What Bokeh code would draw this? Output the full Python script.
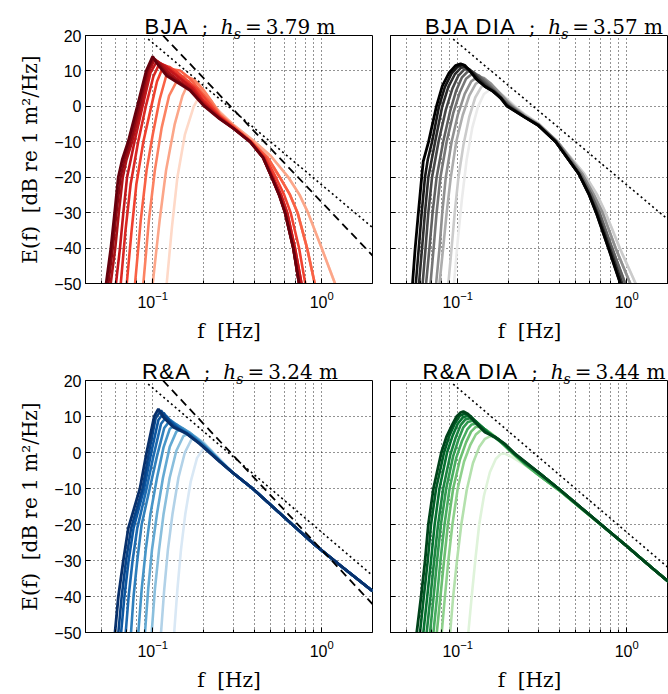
import numpy as np
from bokeh.plotting import figure
from bokeh.layouts import column, row
from bokeh.models import FixedTicker, Range1d, Div
from bokeh.embed import file_html
from bokeh.resources import INLINE

# ---------------- axis ticks ----------------
X_MAJOR = [0.1, 1.0]
X_MINOR = [0.05, 0.06, 0.07, 0.08, 0.09, 0.2, 0.3, 0.4, 0.5, 0.6, 0.7, 0.8, 0.9]
Y_TICKS = [-50, -40, -30, -20, -10, 0, 10, 20]

# ---------------- reference power laws ----------------
DOT_F = [0.094, 2.0]
DOT_E = [19.0, -34.2]
DASH_F = [0.115, 2.0]
DASH_E = [20.0, -42.1]

# ---------------- BJA (Reds) : heads lightest -> darkest ----------------
BJA_HEADS = [
    [(0.121, -50), (0.13, -34), (0.14, -20), (0.155, -8), (0.175, 0), (0.19, 3), (0.21, 2), (0.23, 0), (0.25, -1.5)],
    [(0.1, -50), (0.11, -32), (0.12, -18), (0.135, -5), (0.15, 3), (0.166, 7.5), (0.185, 6.6), (0.205, 3.6), (0.23, 0.5), (0.25, -1.8)],
    [(0.088, -50), (0.095, -32), (0.103, -18), (0.113, -6), (0.125, 3), (0.14, 7.5), (0.155, 8.6), (0.175, 7.6), (0.2, 4.6), (0.225, 1.2), (0.25, -2.2)],
    [(0.0786, -50), (0.085, -32), (0.092, -18), (0.1, -8), (0.11, 2), (0.12, 8.5), (0.13, 10.5), (0.145, 10.1), (0.165, 8), (0.19, 4.6), (0.22, 1), (0.25, -2.5)],
    [(0.0702, -50), (0.075, -35), (0.08, -22), (0.088, -10), (0.097, -1), (0.106, 7), (0.116, 11.5), (0.126, 11.1), (0.14, 9.6), (0.16, 7.3), (0.18, 5.2), (0.21, 1.5), (0.25, -2.8)],
    [(0.0647, -50), (0.069, -35), (0.074, -22), (0.082, -10), (0.091, 0), (0.101, 8.5), (0.11, 12.2), (0.12, 11.4), (0.135, 9.4), (0.155, 7.1), (0.175, 5.2), (0.2, 1.6), (0.25, -3)],
    [(0.0606, -50), (0.064, -40), (0.067, -30), (0.0705, -20), (0.078, -10), (0.087, 0), (0.097, 9.5), (0.106, 12.8), (0.116, 11.6), (0.13, 9.6), (0.15, 7.3), (0.17, 5.2), (0.2, 1), (0.25, -3.2)],
    [(0.0564, -50), (0.06, -40), (0.063, -30), (0.0665, -20), (0.07, -15), (0.0755, -10), (0.085, 0), (0.095, 10), (0.103, 13.3), (0.111, 12), (0.125, 9.4), (0.145, 7), (0.17, 4.6), (0.2, 0.6), (0.25, -3.4)],
    [(0.0546, -50), (0.058, -40), (0.061, -30), (0.0645, -20), (0.068, -15), (0.0735, -10), (0.083, 0), (0.093, 10), (0.101, 13.6), (0.108, 12.2), (0.121, 9.2), (0.135, 7.5), (0.145, 6.6), (0.166, 4.7), (0.2, 0.4), (0.25, -3.5)],
    [(0.053, -50), (0.0565, -40), (0.0595, -30), (0.0625, -20), (0.066, -15), (0.0715, -10), (0.081, 0), (0.0915, 10), (0.1, 14.1), (0.106, 12.1), (0.121, 8.6), (0.135, 7.2), (0.145, 6.3), (0.166, 4.5), (0.2, 0.2), (0.25, -3.6)],
]
BJA_TAILS = [
    [(0.3, -6.2), (0.377, -10), (0.45, -14.5), (0.506, -20), (0.56, -25), (0.607, -30), (0.679, -40), (0.735, -50)],
    [(0.3, -6.1), (0.38, -10), (0.455, -14.5), (0.515, -20), (0.575, -25), (0.625, -30), (0.695, -40), (0.76, -50)],
    [(0.3, -5.9), (0.38, -10), (0.465, -14.5), (0.535, -20), (0.6, -25), (0.655, -30), (0.735, -40), (0.8, -50)],
    [(0.3, -5.6), (0.385, -10), (0.48, -14.5), (0.565, -20), (0.65, -25), (0.72, -30), (0.82, -40), (0.91, -50)],
    [(0.3, -5.2), (0.39, -9.5), (0.5, -14), (0.635, -20), (0.74, -25), (0.83, -30), (1.0, -40), (1.2, -50)],
]
BJA_TAIL_OF = [4, 4, 3, 3, 2, 1, 1, 0, 0, 0]

# ---------------- BJA DIA (Greys) ----------------
BJAD_HEADS = [
    [(0.095, -50), (0.1, -38), (0.106, -26), (0.113, -15), (0.122, -6), (0.132, 0), (0.143, 3.5), (0.155, 4.7), (0.17, 4.4), (0.19, 2.7), (0.22, 0), (0.25, -2.2)],
    [(0.088, -50), (0.092, -40), (0.096, -30), (0.101, -20), (0.108, -11), (0.117, -3), (0.127, 2.5), (0.138, 5.5), (0.15, 6.2), (0.165, 5.3), (0.19, 2.5), (0.22, -0.3), (0.25, -2.4)],
    [(0.078, -50), (0.082, -40), (0.086, -30), (0.091, -20), (0.098, -10), (0.107, -2.5), (0.117, 3), (0.128, 6.4), (0.14, 7.4), (0.155, 6.6), (0.175, 4), (0.2, 1), (0.25, -2.6)],
    [(0.0745, -50), (0.078, -40), (0.081, -30), (0.085, -20), (0.092, -10), (0.1, -2.5), (0.11, 3.5), (0.12, 7), (0.131, 8.4), (0.143, 8), (0.158, 6.3), (0.18, 3.3), (0.21, 0), (0.25, -2.8)],
    [(0.069, -50), (0.072, -40), (0.075, -30), (0.079, -20), (0.086, -10), (0.094, -2), (0.103, 4), (0.112, 7.8), (0.122, 9.2), (0.133, 8.8), (0.148, 7), (0.165, 4.6), (0.19, 1.5), (0.25, -3)],
    [(0.065, -50), (0.068, -40), (0.071, -30), (0.075, -20), (0.082, -10), (0.09, -1.5), (0.098, 4.5), (0.106, 8.2), (0.115, 9.9), (0.124, 9.7), (0.135, 8.2), (0.15, 6.2), (0.17, 3.8), (0.2, 0.3), (0.25, -3)],
    [(0.062, -50), (0.0645, -40), (0.067, -30), (0.0705, -20), (0.077, -10), (0.085, -1), (0.093, 5), (0.101, 8.7), (0.109, 10.4), (0.117, 10.5), (0.127, 9), (0.14, 7), (0.155, 5.2), (0.175, 3.2), (0.2, 0), (0.25, -3)],
    [(0.059, -50), (0.0615, -40), (0.064, -30), (0.067, -20), (0.0735, -10), (0.081, 0), (0.088, 5.5), (0.096, 9), (0.104, 10.8), (0.111, 11.2), (0.12, 10), (0.132, 7.8), (0.147, 5.7), (0.165, 4.1), (0.195, 0.4), (0.25, -3)],
    [(0.0565, -50), (0.0588, -40), (0.0612, -30), (0.064, -20), (0.0665, -15), (0.0705, -10), (0.0775, 0), (0.084, 5.5), (0.092, 9.3), (0.1, 11.2), (0.107, 11.7), (0.117, 10.3), (0.13, 7.6), (0.145, 5.6), (0.161, 4.3), (0.18, 2.4), (0.195, 0.2), (0.25, -3.1)],
    [(0.054, -50), (0.056, -40), (0.0585, -30), (0.0612, -20), (0.0625, -15.5), (0.0672, -10), (0.0748, 0), (0.0811, 5.8), (0.089, 9.5), (0.097, 11.5), (0.104, 12), (0.11, 11.6), (0.117, 10.2), (0.13, 7.5), (0.145, 5.6), (0.161, 4.3), (0.18, 2.3), (0.195, 0.1), (0.25, -3.1)],
]
BJAD_TAILS = [
    [(0.3, -5.4), (0.38, -10), (0.52, -19), (0.6, -25), (0.66, -30), (0.78, -40), (0.918, -50)],
    [(0.3, -5.3), (0.38, -10), (0.52, -19), (0.605, -25), (0.67, -30), (0.795, -40), (0.94, -50)],
    [(0.3, -5.2), (0.385, -10), (0.53, -19), (0.62, -25), (0.69, -30), (0.82, -40), (0.98, -50)],
    [(0.3, -5.0), (0.39, -10), (0.545, -19), (0.64, -25), (0.72, -30), (0.86, -40), (1.05, -50)],
    [(0.3, -4.8), (0.39, -10), (0.56, -19), (0.67, -25), (0.75, -30), (0.91, -40), (1.13, -50)],
]
BJAD_TAIL_OF = [4, 4, 3, 3, 2, 2, 1, 1, 0, 0]

# ---------------- R&A (Blues) ----------------
RA_HEADS = [
    [(0.134, -50), (0.14, -38), (0.147, -27), (0.156, -17), (0.168, -8), (0.183, -1.5), (0.2, 1.2), (0.215, 1.3), (0.25, -1.8)],
    [(0.112, -50), (0.117, -38), (0.123, -27), (0.131, -17), (0.142, -7), (0.155, 0), (0.17, 3.7), (0.185, 3.8), (0.2, 2.8), (0.25, -2.1)],
    [(0.0986, -50), (0.103, -38), (0.109, -27), (0.116, -17), (0.126, -7), (0.138, 0.5), (0.152, 4.6), (0.165, 5.3), (0.18, 4.3), (0.2, 2.5), (0.25, -2.2)],
    [(0.09, -50), (0.094, -38), (0.099, -27), (0.106, -17), (0.115, -7), (0.126, 1.5), (0.138, 5.8), (0.15, 6.7), (0.165, 5.6), (0.19, 3.2), (0.22, 0.5), (0.25, -2.2)],
    [(0.0822, -50), (0.086, -38), (0.091, -27), (0.097, -17), (0.106, -7), (0.116, 1.5), (0.126, 6.5), (0.137, 7.9), (0.15, 6.8), (0.17, 5), (0.2, 2.1), (0.25, -2.3)],
    [(0.0744, -50), (0.077, -40), (0.081, -30), (0.086, -20), (0.096, -10), (0.106, -1), (0.117, 6.8), (0.127, 9), (0.137, 7.9), (0.152, 6.2), (0.17, 4.7), (0.2, 2), (0.25, -2.4)],
    [(0.0692, -50), (0.072, -40), (0.076, -30), (0.081, -21), (0.092, -10), (0.101, -1), (0.112, 8), (0.121, 10), (0.13, 8.4), (0.145, 6.5), (0.165, 5), (0.19, 2.6), (0.25, -2.5)],
    [(0.065, -50), (0.068, -40), (0.072, -30), (0.077, -21), (0.089, -10), (0.098, 0), (0.108, 9), (0.116, 11), (0.125, 9), (0.14, 6.8), (0.159, 5.3), (0.19, 2.5), (0.25, -2.5)],
    [(0.0626, -50), (0.0655, -40), (0.0695, -30), (0.0745, -21), (0.087, -10), (0.095, 0), (0.104, 9.5), (0.112, 11.7), (0.12, 9.6), (0.1325, 7.3), (0.159, 5.3), (0.19, 2.5), (0.25, -2.5)],
    [(0.0598, -50), (0.0626, -40), (0.067, -30), (0.0717, -21), (0.084, -10), (0.092, 0), (0.102, 10), (0.108, 12.1), (0.1156, 9.8), (0.1325, 7), (0.159, 5.2), (0.19, 2.4), (0.25, -2.6)],
]
RA_TAILS = [
    [(0.294, -5.4), (0.39, -10), (0.67, -20), (0.91, -25.6), (1.3, -31.5), (2.0, -38.5)],
]
RA_TAIL_OF = [0, 0, 0, 0, 0, 0, 0, 0, 0, 0]

# ---------------- R&A DIA (Greens) ----------------
RAD_HEADS = [
    [(0.1156, -50), (0.121, -40), (0.127, -30), (0.134, -20), (0.143, -12), (0.155, -5.5), (0.168, -1.8), (0.18, -0.4), (0.19, -0.3), (0.21, -1.3), (0.25, -3.5)],
    [(0.0902, -50), (0.094, -40), (0.099, -30), (0.105, -20), (0.113, -10.5), (0.123, -3), (0.134, 1.5), (0.145, 3.8), (0.155, 4.5), (0.167, 4.2), (0.185, 2.5), (0.21, -0.2), (0.25, -3.4)],
    [(0.0804, -50), (0.084, -40), (0.088, -30), (0.093, -20), (0.1, -10), (0.109, -2.5), (0.119, 2.2), (0.128, 5), (0.137, 6.2), (0.146, 6.3), (0.158, 5.3), (0.175, 3.7), (0.2, 0.8), (0.25, -3.3)],
    [(0.0752, -50), (0.079, -40), (0.083, -30), (0.0875, -20), (0.094, -10), (0.103, -2), (0.112, 2.8), (0.12, 5.8), (0.128, 7.1), (0.136, 7.2), (0.147, 6.3), (0.162, 4.7), (0.18, 3), (0.205, 0.3), (0.25, -3.2)],
    [(0.0718, -50), (0.0755, -40), (0.079, -30), (0.0835, -20), (0.0895, -10), (0.098, -1.5), (0.106, 3.2), (0.114, 6.4), (0.121, 7.8), (0.128, 8), (0.138, 7.2), (0.152, 5.6), (0.17, 3.8), (0.2, 1), (0.25, -3.1)],
    [(0.0686, -50), (0.072, -40), (0.0755, -30), (0.0795, -20), (0.0855, -10), (0.094, -1), (0.101, 3.6), (0.108, 7), (0.115, 8.5), (0.122, 8.8), (0.132, 8), (0.145, 6.3), (0.16, 4.6), (0.18, 3), (0.2, 1), (0.25, -3)],
    [(0.0655, -50), (0.069, -40), (0.0725, -30), (0.0765, -20), (0.082, -10), (0.0905, -0.5), (0.097, 4), (0.104, 7.6), (0.111, 9.2), (0.118, 9.5), (0.127, 8.8), (0.14, 7), (0.155, 5.2), (0.175, 3.6), (0.2, 1.2), (0.25, -2.9)],
    [(0.0626, -50), (0.066, -40), (0.0695, -30), (0.073, -20), (0.078, -10), (0.0865, 0), (0.093, 4.5), (0.1, 8), (0.107, 9.7), (0.114, 10.2), (0.123, 9.4), (0.135, 7.6), (0.15, 5.6), (0.17, 4), (0.19, 2.2), (0.219, -0.6), (0.25, -2.7)],
    [(0.0598, -50), (0.063, -40), (0.0665, -30), (0.0695, -20), (0.0745, -10), (0.083, 0), (0.089, 4.5), (0.096, 8), (0.103, 10.2), (0.111, 10.9), (0.12, 10), (0.13, 8.1), (0.145, 5.8), (0.166, 4.3), (0.19, 2.3), (0.219, -0.5), (0.25, -2.6)],
    [(0.0572, -50), (0.0607, -40), (0.0641, -30), (0.067, -20), (0.0718, -10), (0.08, 0), (0.086, 4.5), (0.093, 7.8), (0.0985, 10), (0.104, 11.1), (0.108, 11.4), (0.115, 10.7), (0.1267, 8.4), (0.145, 5.6), (0.166, 4.3), (0.19, 2.4), (0.219, -0.4), (0.25, -2.5)],
]
RAD_TAILS = [
    [(0.3, -5.5), (0.394, -10), (1.0, -26), (1.41, -32), (2.0, -38)],
    [(0.3, -6.2), (0.394, -10.3), (1.0, -26), (1.41, -32), (2.0, -38)],
]
RAD_TAIL_OF = [1, 1, 1, 1, 1, 0, 0, 0, 0, 0]

# ---------------- titles ----------------
NAMES = ["BJA", "BJA DIA", "R&A", "R&A DIA"]
HS = ["3.79", "3.57", "3.24", "3.44"]

# ---------------- colour maps (styles) ----------------
REDS = ['#fff5f0', '#fee0d2', '#fcbba1', '#fc9272', '#fb6a4a', '#ef3b2c', '#cb181d', '#a50f15', '#67000d']
GREYS = ['#ffffff', '#f0f0f0', '#d9d9d9', '#bdbdbd', '#969696', '#737373', '#525252', '#252525', '#000000']
BLUES = ['#f7fbff', '#deebf7', '#c6dbef', '#9ecae1', '#6baed6', '#4292c6', '#2171b5', '#08519c', '#08306b']
GREENS = ['#f7fcf5', '#e5f5e0', '#c7e9c0', '#a1d99b', '#74c476', '#41ab5d', '#238b45', '#006d2c', '#00441b']


def cmap(pal, t):
    stops = np.linspace(0, 1, len(pal))
    rgb = np.array([[int(c[i:i + 2], 16) for i in (1, 3, 5)] for c in pal], dtype=float)
    out = [np.interp(t, stops, rgb[:, k]) for k in range(3)]
    return "#%02x%02x%02x" % tuple(int(round(v)) for v in out)


SANS = "Liberation Sans"
SERIF = "DejaVu Serif"
FRAME_H = 254
LEFT_FW = 287
RIGHT_FW = 278
PX_PER_DEC = LEFT_FW / np.log10(2.0 / 0.04)
NB = "\u00a0"
TOP_PAD = 8
TITLE_H = 35 - TOP_PAD


def make_panel(heads, tails, tail_of, pal, left, top, dashed):
    fw = LEFT_FW if left else RIGHT_FW
    mbl = 85 if left else 17
    mbr = 1 if left else 0
    top_fig_h = TOP_PAD + FRAME_H + 56
    mbb = 56 if top else 694 - (2 * TITLE_H + top_fig_h + TOP_PAD + FRAME_H)
    x_end = 0.04 * 10 ** (fw / PX_PER_DEC)
    p = figure(width=mbl + fw + mbr, height=TOP_PAD + FRAME_H + mbb,
               x_axis_type="log", x_range=Range1d(0.04, x_end), y_range=Range1d(-50, 20),
               output_backend="svg", toolbar_location=None, title=None,
               min_border_left=mbl, min_border_right=mbr, min_border_top=TOP_PAD, min_border_bottom=mbb)
    p.background_fill_color = "white"
    p.border_fill_color = "white"
    p.border_fill_alpha = 0.0
    p.outline_line_color = "black"
    p.outline_line_width = 1
    p.outline_line_alpha = 1.0

    n = len(heads)
    for i, head in enumerate(heads):
        pts = head + tails[tail_of[i]]
        f = [a for a, _ in pts]
        e = [b for _, b in pts]
        t = 0.15 + 0.85 * (i / (n - 1)) ** 0.75
        p.line(f, e, line_color=cmap(pal, t), line_width=2.8 if i == n - 1 else 2.6)

    p.line(DOT_F, DOT_E, line_color="black", line_width=1.6, line_dash="2 3")
    if dashed:
        p.line(DASH_F, DASH_E, line_color="black", line_width=1.8, line_dash="8 5")

    ax = p.xaxis[0]
    ax.ticker = FixedTicker(ticks=X_MAJOR, minor_ticks=X_MINOR)
    ax.major_tick_in = 5
    ax.major_tick_out = 0
    ax.minor_tick_in = 3
    ax.minor_tick_out = 0
    ax.axis_line_color = "black"
    ax.major_label_text_font = SANS
    ax.major_label_text_font_size = "16px"
    ax.major_label_text_color = "black"
    ax.major_label_standoff = 7
    ax.axis_label = "f" + NB + NB + "[Hz]"
    ax.axis_label_text_font = SERIF
    ax.axis_label_text_font_size = "20px"
    ax.axis_label_text_font_style = "normal"
    ax.axis_label_text_color = "black"
    ax.axis_label_standoff = 8

    ay = p.yaxis[0]
    ay.ticker = FixedTicker(ticks=Y_TICKS)
    ay.major_tick_in = 5
    ay.major_tick_out = 0
    ay.minor_tick_in = 0
    ay.minor_tick_out = 0
    ay.axis_line_color = "black"
    if left:
        ay.major_label_text_font = SANS
        ay.major_label_text_font_size = "16px"
        ay.major_label_text_color = "black"
        ay.major_label_standoff = 4
        ay.major_label_overrides = {v: (("\u2212" + str(-v)) if v < 0 else str(v)) for v in Y_TICKS}
        ay.axis_label = "E(f)" + NB + NB + "[dB re 1 m\u00b2/Hz]"
        ay.axis_label_text_font = SERIF
        ay.axis_label_text_font_size = "20px"
        ay.axis_label_text_font_style = "normal"
        ay.axis_label_text_color = "black"
        ay.axis_label_standoff = 9
    else:
        ay.major_label_standoff = 0
        ay.major_label_overrides = {v: "" for v in Y_TICKS}

    for g in (p.xgrid[0], p.ygrid[0]):
        g.grid_line_color = "black"
        g.grid_line_alpha = 0.85
        g.grid_line_dash = "1 3"
        g.grid_line_width = 1
    p.xgrid[0].minor_grid_line_color = "black"
    p.xgrid[0].minor_grid_line_alpha = 0.85
    p.xgrid[0].minor_grid_line_dash = "1 3"
    p.xgrid[0].minor_grid_line_width = 1
    return p


def title_html(name, hs, center):
    return ('<div style="position:absolute;left:%dpx;top:17px;transform:translateX(-50%%);'
            'white-space:nowrap;font-size:20px;line-height:20px;color:black">'
            '<span style="font-family:\'Liberation Sans\';font-size:22px;letter-spacing:1.3px">%s</span>'
            '<span style="font-family:\'DejaVu Serif\'">&nbsp;&nbsp;;&nbsp;&nbsp;<i>h</i>'
            '<span style="font-size:14px;font-style:italic;position:relative;top:5px">s</span>'
            '&thinsp;=&thinsp;%s&nbsp;m</span></div>') % (center, name, hs)


def title_div(k0, k1):
    html = ('<div style="position:relative;width:668px;height:%dpx">' % TITLE_H
            + title_html(NAMES[k0], HS[k0], 240) + title_html(NAMES[k1], HS[k1], 544) + '</div>')
    return Div(text=html, width=668, height=TITLE_H, margin=(0, 0, 0, 0),
               styles={"overflow": "visible", "z-index": "2"})


p1 = make_panel(BJA_HEADS, BJA_TAILS, BJA_TAIL_OF, REDS, True, True, True)
p2 = make_panel(BJAD_HEADS, BJAD_TAILS, BJAD_TAIL_OF, GREYS, False, True, False)
p3 = make_panel(RA_HEADS, RA_TAILS, RA_TAIL_OF, BLUES, True, False, True)
p4 = make_panel(RAD_HEADS, RAD_TAILS, RAD_TAIL_OF, GREENS, False, False, False)

layout = column(title_div(0, 1), row(p1, p2), title_div(2, 3), row(p3, p4))
open("out.html", "w").write(file_html(layout, INLINE))
